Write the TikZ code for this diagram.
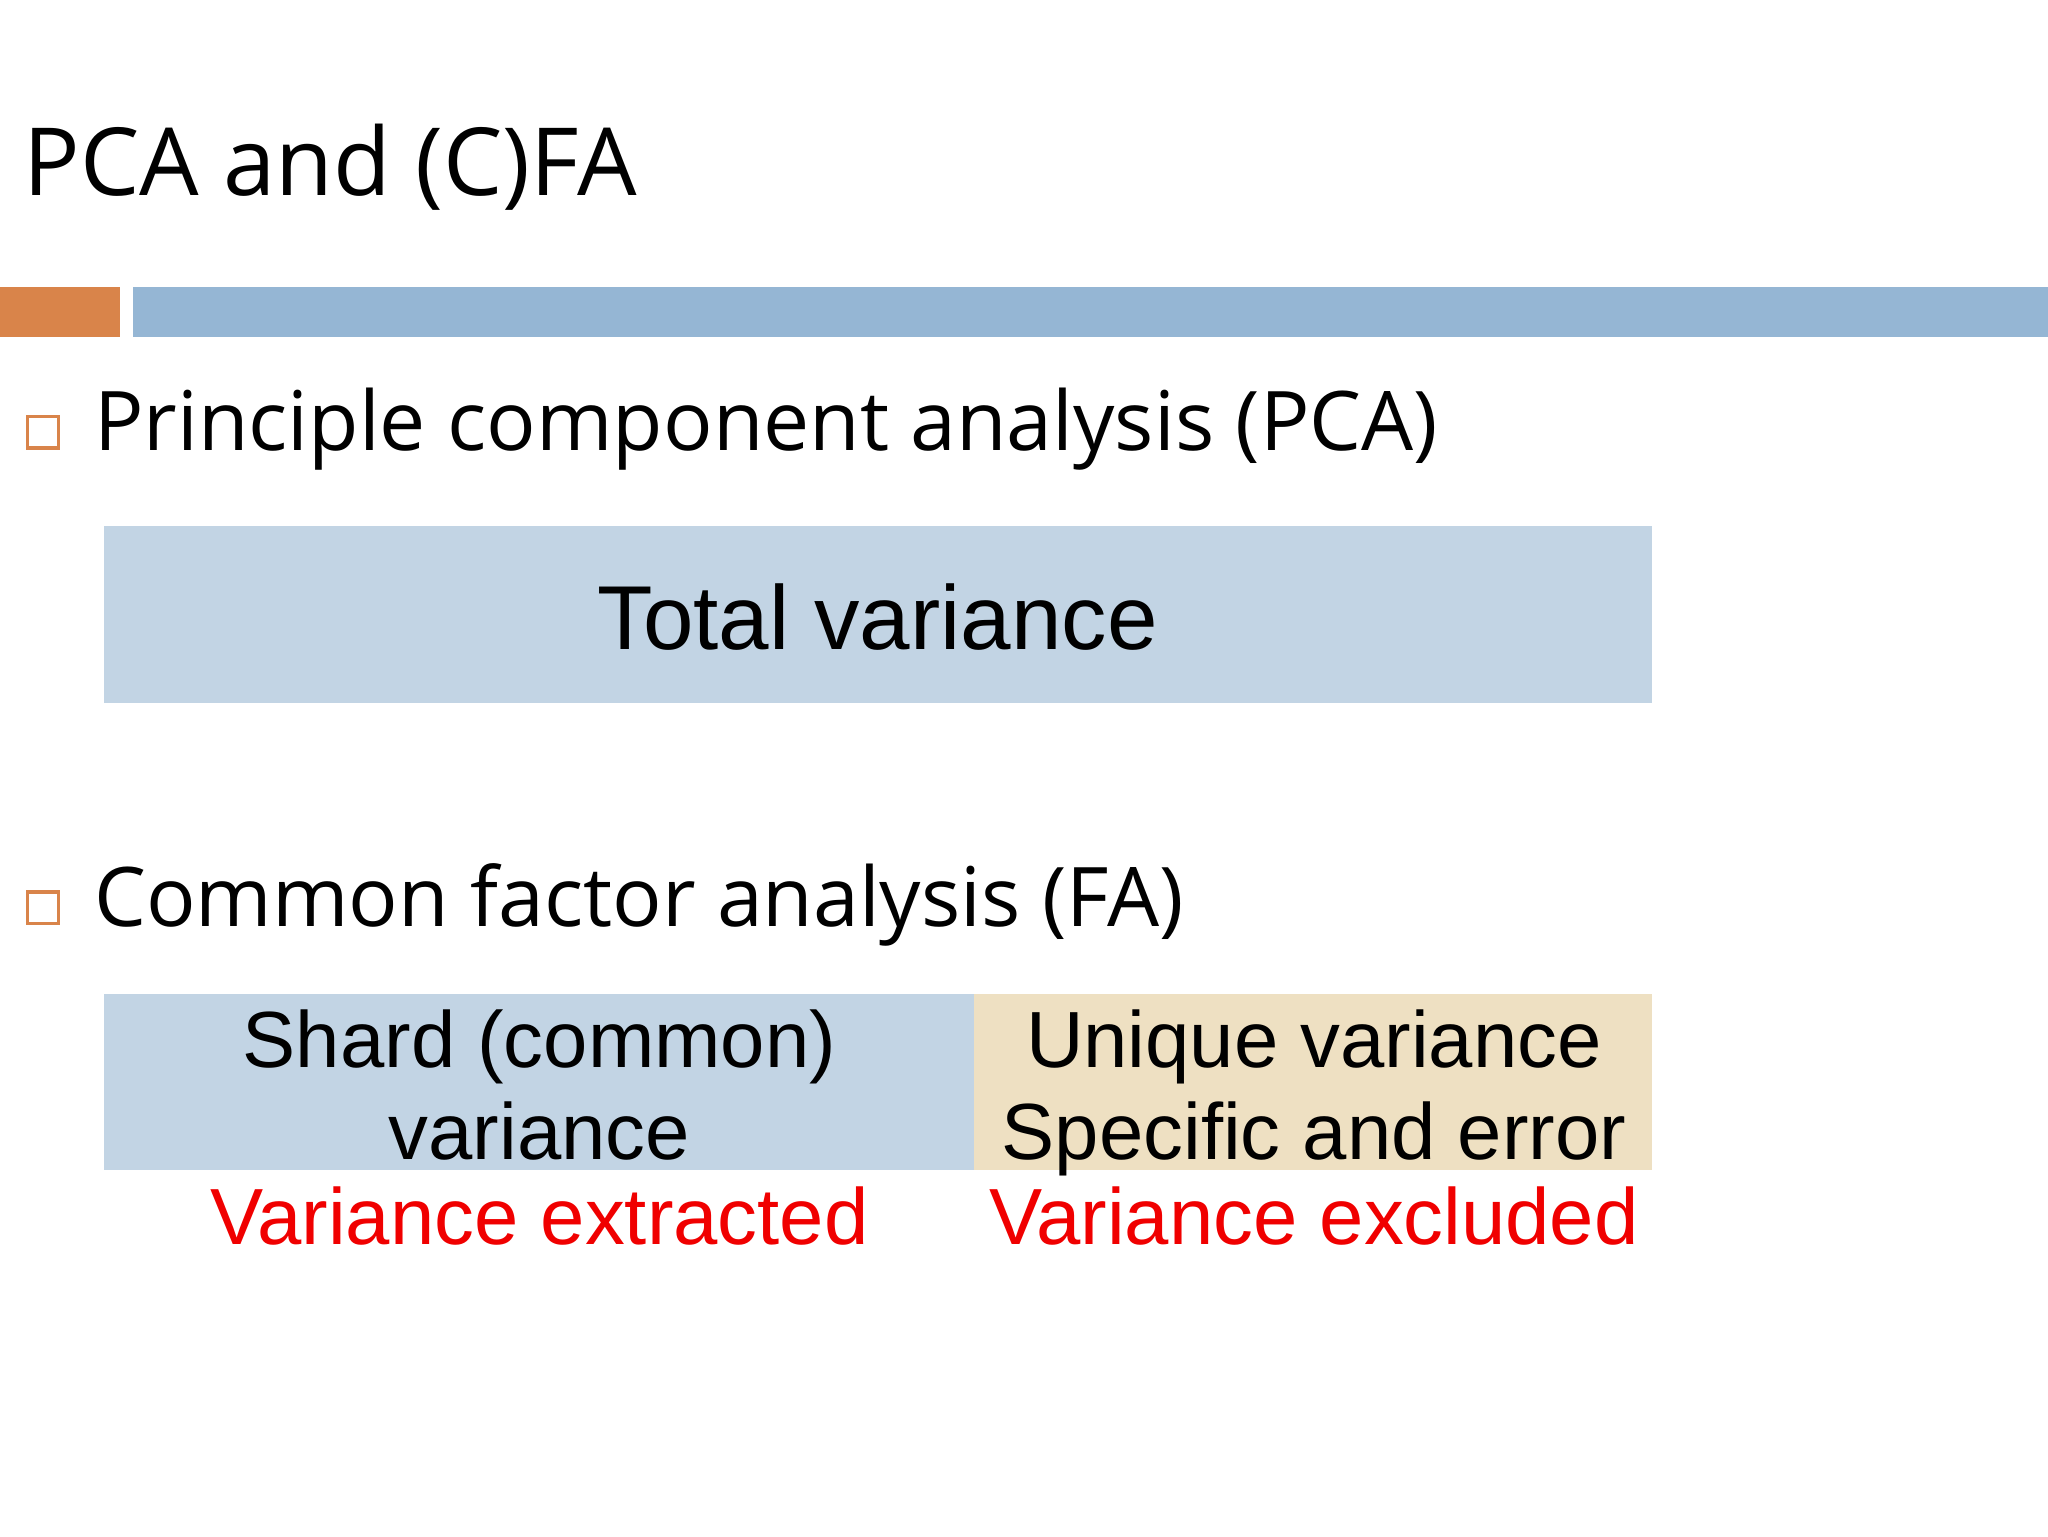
\documentclass[tikz,border=0pt]{standalone}
\usepackage{fontspec}
\setmainfont{Open Sans}
\newfontfamily\arialf{Liberation Sans}
\definecolor{orng}{HTML}{D9844A}
\definecolor{bbar}{HTML}{95B6D4}
\definecolor{lblue}{HTML}{C2D4E4}
\definecolor{beige}{HTML}{EEE0C2}
\definecolor{redt}{HTML}{F00000}
\begin{document}
\begin{tikzpicture}[x=1pt,y=-1pt,
  boxtxt/.style={font=\arialf\fontsize{61}{71}\selectfont,align=center,inner sep=0},
  bul/.style={draw=orng,line width=2.5pt}]
\useasboundingbox[fill=white] (0,0) rectangle (1568,1176);
\node[anchor=base west,font=\fontsize{72}{84}\selectfont,inner sep=0] (title) at (18,150) {PCA and (C)FA};
\fill[orng] (0,220) rectangle (92,258);
\fill[bbar] (102,220) rectangle (1568,258);
\draw[bul] (21,319) rectangle (45,343);
\node[anchor=base west,font=\fontsize{63}{72}\selectfont,inner sep=0] (b1) at (72,345) {Principle component analysis (PCA)};
\fill[lblue] (80,403) rectangle (1265,538);
\node[anchor=base,inner sep=0,font=\arialf\fontsize{69.5}{80}\selectfont] (tv) at (672,497) {Total variance};
\draw[bul] (21,683) rectangle (45,707);
\node[anchor=base west,font=\fontsize{63}{72}\selectfont,inner sep=0] (b2) at (72,709) {Common factor analysis (FA)};
\fill[lblue] (80,761) rectangle (746,896);
\fill[beige] (746,761) rectangle (1265,896);
\node[boxtxt,anchor=base] (sh) at (413,817) {Shard (common)};
\node[boxtxt,anchor=base] (sh2) at (413,888) {variance};
\node[boxtxt,anchor=base] (un) at (1006,817) {Unique variance};
\node[boxtxt,anchor=base] (un2) at (1006,888) {Specific and error};
\node[boxtxt,text=redt,anchor=base] (ve1) at (413,953) {Variance extracted};
\node[boxtxt,text=redt,anchor=base] (ve2) at (1006,953) {Variance excluded};
\end{tikzpicture}
\end{document}
